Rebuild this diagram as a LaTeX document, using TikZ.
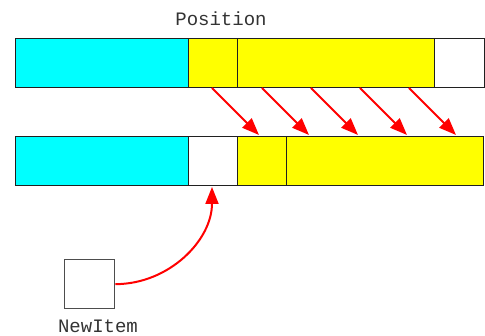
\documentclass[tikz,border=0pt]{standalone}
\usepackage{fontspec}
\setmonofont{Liberation Mono}
\usetikzlibrary{arrows.meta}
\definecolor{cellcyan}{HTML}{00FFFF}
\definecolor{cellyellow}{HTML}{FFFF00}
\definecolor{edge}{HTML}{202020}
\begin{document}
\begin{tikzpicture}[x=1pt,y=-1pt,
  cell/.style={draw=edge,line width=1.3pt,inner sep=0pt,anchor=north west,minimum height=49pt},
  move/.style={draw=red,line width=2pt,-{Triangle[length=17pt,width=13pt]}},
  lbl/.style={font=\fontsize{19}{19}\selectfont\ttfamily,text=black!80,inner sep=0pt}]
\useasboundingbox (0,0) rectangle (485,336);
% top row
\node[cell,fill=cellcyan,minimum width=173pt] (t1) at (15,38) {};
\node[cell,fill=cellyellow,minimum width=49pt] (t2) at (188,38) {};
\node[cell,fill=cellyellow,minimum width=197pt] (t3) at (237,38) {};
\node[cell,fill=white,minimum width=50pt] (t4) at (434,38) {};
% bottom row
\node[cell,fill=cellcyan,minimum width=173pt] (b1) at (15,136) {};
\node[cell,fill=white,minimum width=49pt] (b2) at (188,136) {};
\node[cell,fill=cellyellow,minimum width=49pt] (b3) at (237,136) {};
\node[cell,fill=cellyellow,minimum width=197pt] (b4) at (286,136) {};
% labels
\node[lbl,anchor=base] (pos) at (221,26) {Position};
\node[cell,fill=white,minimum width=50pt,minimum height=49pt,draw=edge!80] (item) at (64,259) {};
\node[lbl,anchor=base] (itemlbl) at (98,333) {NewItem};
% shift arrows
\foreach \i/\x in {1/212,2/262,3/311,4/360,5/409}{
  \coordinate (s\i) at (\x,88);
  \coordinate (e\i) at (\x+47,135);
  \draw[move] (s\i) -- (e\i);
}
\coordinate (ins) at (212,187);
\draw[move] (item.east) to[out=0,in=-90] (ins);
\end{tikzpicture}
\end{document}
